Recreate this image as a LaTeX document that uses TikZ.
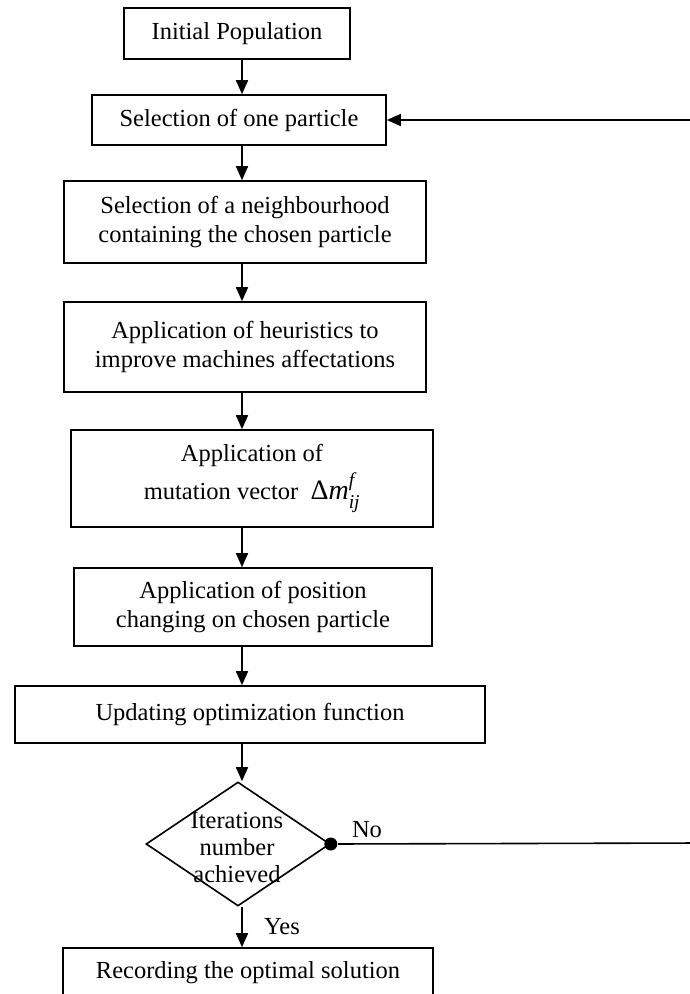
\documentclass[tikz,border=0pt]{standalone}
\usepackage{amsmath}
\usepackage{fontspec}
\setmainfont{Liberation Serif}
\usetikzlibrary{arrows.meta,shapes.geometric,positioning}

\begin{document}
\begin{tikzpicture}[
    % styles
    x=1pt, y=-1pt,
    font=\fontsize{24.5}{29}\selectfont,
    line width=1.6pt,
    box/.style={draw, rectangle, inner sep=0pt, align=center},
    decision/.style={draw, diamond, inner sep=0pt, minimum width=184pt, minimum height=124pt},
    flow/.style={-{Triangle[length=14pt,width=12pt]}},
    dot/.style={circle, fill=black, inner sep=0pt, minimum size=13pt},
    tag/.style={inner sep=0pt, align=center}
]
    \useasboundingbox (0,0) rectangle (690,994);

    % --- boxes ---
    \node[box, minimum width=226pt, minimum height=51pt] (init) at (237,33.5) {Initial Population};
    \node[box, minimum width=294pt, minimum height=50pt] (sel) at (239,120) {Selection of one particle};
    \node[box, minimum width=362pt, minimum height=82pt] (neigh) at (245,222) {Selection of a neighbourhood\\containing the chosen particle};
    \node[box, minimum width=362pt, minimum height=90pt] (heur) at (245,347) {Application of heuristics to\\improve machines affectations};
    \node[box, minimum width=362pt, minimum height=97pt] (mut) at (252,478.5)
        {Application of\\[5pt]mutation vector \ {\fontsize{28}{29}\selectfont Δ\textit{m}$^{\textit{f}}_{\textit{ij}}$}};
    \node[box, minimum width=358pt, minimum height=78pt] (pos) at (253,607) {Application of position\\changing on chosen particle};
    \node[box, minimum width=470pt, minimum height=57pt] (upd) at (250,714.5) {Updating optimization function};

    % --- decision ---
    \node[decision] (iter) at (238,844) {};
    \node[tag, font=\fontsize{24.5}{27}\selectfont] (iterlbl) at (237,847) {Iterations\\number\\achieved};
    \node[dot] (knot) at (iter.east) {};

    \node[box, minimum width=370pt, minimum height=50pt] (rec) at (248,973) {Recording the optimal solution};

    % --- labels ---
    \node[tag] (no) at (367,830) {No};
    \node[tag] (yes) at (282,927) {Yes};

    % --- edges ---
    \coordinate (spine) at (242,0);
    \coordinate (loop) at (700,843);
    \draw[flow] (init.south -| spine) -- (sel.north -| spine);
    \draw[flow] (sel.south -| spine) -- (neigh.north -| spine);
    \draw[flow] (neigh.south -| spine) -- (heur.north -| spine);
    \draw[flow] (heur.south -| spine) -- (mut.north -| spine);
    \draw[flow] (mut.south -| spine) -- (pos.north -| spine);
    \draw[flow] (pos.south -| spine) -- (upd.north -| spine);
    \draw[flow] (upd.south -| spine) -- (iter.north -| spine);
    \draw[flow] (iter.south -| spine) -- (rec.north -| spine);
    \draw[flow] (knot) -- (loop) |- (sel.east);

\end{tikzpicture}
\end{document}
